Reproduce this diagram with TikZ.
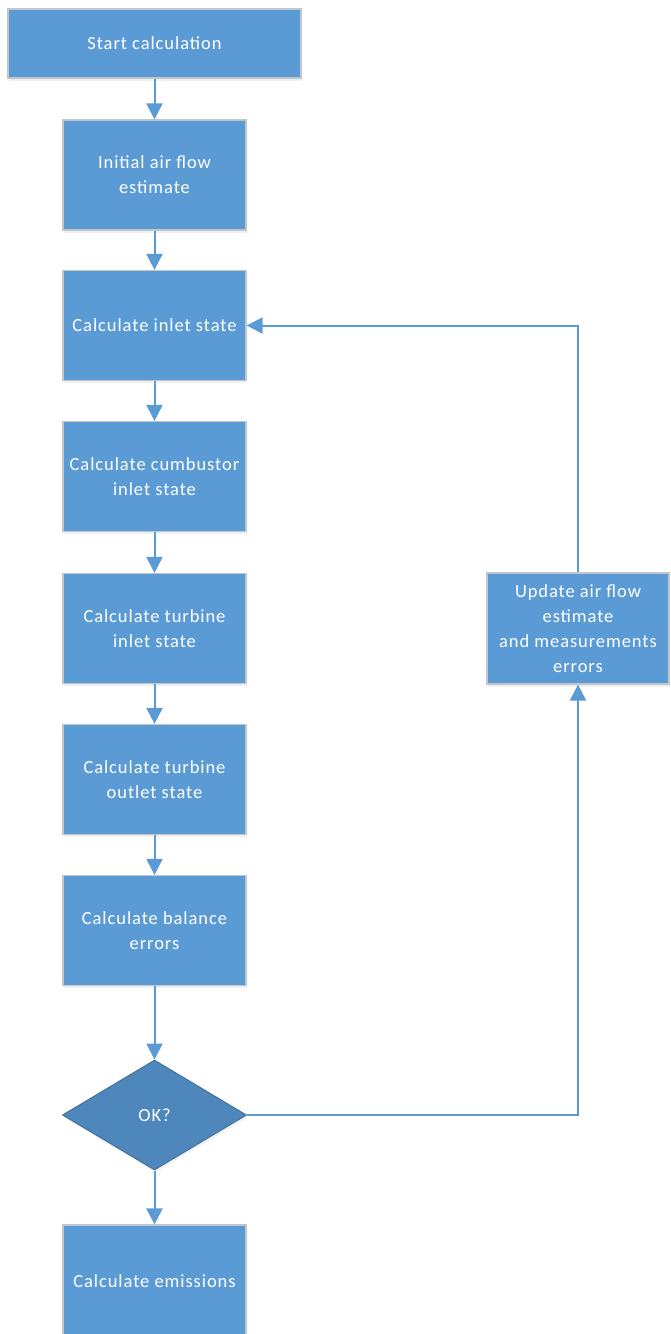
\documentclass[tikz,border=0pt]{standalone}
\usepackage{fontspec}
\setmainfont{Carlito}[LetterSpace=5]
\usetikzlibrary{arrows.meta,shapes.geometric,shadows}
\definecolor{boxblue}{HTML}{5B9BD5}
\definecolor{diablue}{HTML}{4E87BC}
\definecolor{diaborder}{HTML}{41719C}
\definecolor{boxborder}{HTML}{C0C6CC}
\tikzset{
  stepbox/.style={rectangle, draw=boxborder, line width=1.2pt, fill=boxblue,
    text=white, minimum width=183pt, minimum height=110pt, inner sep=0pt,
    align=center, font=\fontsize{18.5}{25}\selectfont,
    drop shadow={opacity=0.12, shadow xshift=1pt, shadow yshift=-2.5pt}},
  decision/.style={diamond, draw=diaborder, line width=1pt, fill=diablue,
    text=white, minimum width=184pt, minimum height=110pt, inner sep=0pt,
    aspect=1.67, font=\fontsize{18.5}{25}\selectfont,
    drop shadow={opacity=0.12, shadow xshift=1pt, shadow yshift=-2.5pt}},
  flow/.style={draw=boxblue, line width=2pt, -{Triangle[width=16pt,length=16pt]}},
}
\begin{document}
\begin{tikzpicture}[x=1pt,y=1pt]
\useasboundingbox (0,0) rectangle (670,-1334);
\fill[white] (0,0) rectangle (670,-1334);
\node[stepbox, minimum width=293pt, minimum height=69pt] (start) at (154.5,-43.5) {Start calculation};
\node[stepbox] (init) at (154.5,-175) {Initial air flow\\estimate};
\node[stepbox] (inlet) at (154.5,-325.5) {Calculate inlet state};
\node[stepbox] (comb) at (154.5,-476.5) {Calculate cumbustor\\inlet state};
\node[stepbox] (tin) at (154.5,-628.5) {Calculate turbine\\inlet state};
\node[stepbox] (tout) at (154.5,-779.5) {Calculate turbine\\outlet state};
\node[stepbox] (bal) at (154.5,-930.5) {Calculate balance\\errors};
\node[decision] (ok) at (154.5,-1115) {OK?};
\node[stepbox, minimum height=112pt] (emis) at (154.5,-1281) {Calculate emissions};
\node[stepbox, minimum width=182pt, minimum height=111pt] (upd) at (578,-628.5) {Update air flow\\estimate\\and measurements\\errors};
\coordinate (c1) at (578,-1115);
\coordinate (c2) at (578,-325.5);
\draw[flow] (start) -- (init);
\draw[flow] (init) -- (inlet);
\draw[flow] (inlet) -- (comb);
\draw[flow] (comb) -- (tin);
\draw[flow] (tin) -- (tout);
\draw[flow] (tout) -- (bal);
\draw[flow] (bal) -- (ok);
\draw[flow] (ok) -- (emis);
\draw[flow] (ok.east) -- (c1) -- (upd.south);
\draw[flow] (upd.north) -- (c2) -- (inlet.east);
\end{tikzpicture}
\end{document}
